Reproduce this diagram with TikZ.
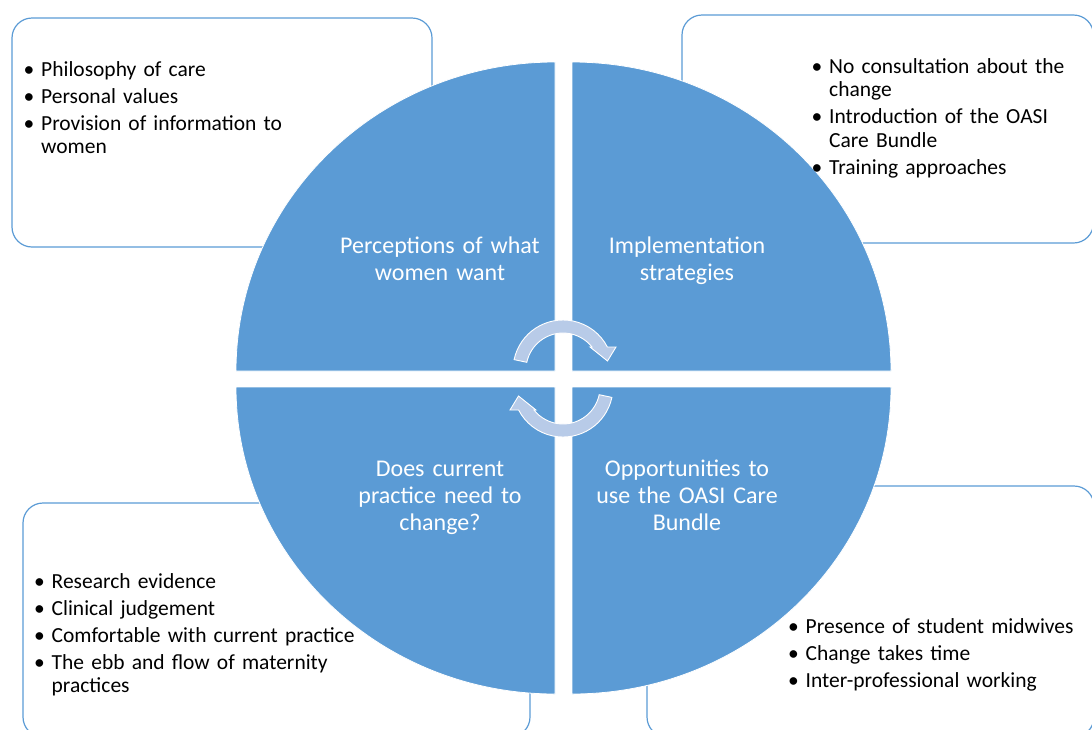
\documentclass[tikz,border=0pt]{standalone}
\usepackage{fontspec}
\setmainfont{Carlito}
\definecolor{qblue}{HTML}{5B9BD5}
\definecolor{arrowfill}{HTML}{B8CBE8}
\newcommand\bpoint[1]{\hangindent=17.5pt\hangafter=1\noindent\makebox[17.5pt][l]{\textbullet}#1\par}
\newcommand\bgap{\vskip3.5pt}
\begin{document}
\begin{tikzpicture}[x=1pt,y=1pt,
  quad/.style={fill=qblue, draw=white, line width=0.8pt},
  infobox/.style={draw=qblue, line width=1.2pt, rounded corners=20pt},
  qtext/.style={text=white, font=\fontsize{24}{27}\selectfont, align=center, text width=260pt, inner sep=0pt, anchor=base},
  btext/.style={text=black, font=\fontsize{21.5}{23.5}\selectfont, text width=330pt, inner sep=0pt, anchor=base west},
  cyc/.style={fill=arrowfill, draw=white, line width=0.9pt}
]
\useasboundingbox (0,0) rectangle (1092,-729);
\clip (0,0) rectangle (1092,-729);
% information boxes
\draw[infobox] (12,-18) rectangle (432,-247);
\draw[infobox] (682,-15) rectangle (1093.5,-243);
\draw[infobox] (23,-503) rectangle (530,-737);
\draw[infobox] (647,-486) rectangle (1094,-737);
% quadrants
\path[quad] (555,-371) -- (236,-371) arc[start angle=180, end angle=90, x radius=319, y radius=309] -- cycle;
\path[quad] (572,-371) -- (572,-62) arc[start angle=90, end angle=0, x radius=319, y radius=309] -- cycle;
\path[quad] (555,-387) -- (236,-387) arc[start angle=180, end angle=270, x radius=319, y radius=307] -- cycle;
\path[quad] (572,-387) -- (891,-387) arc[start angle=0, end angle=-90, x radius=319, y radius=307] -- cycle;
% cycle arrows
\path[cyc] ([shift={(168:50)}]563,-370) arc[start angle=168, end angle=27.4, radius=50]
  -- (616,-347) -- (607.5,-361) -- (590,-347)
  -- ([shift={(38.4:37)}]563,-370) arc[start angle=38.4, end angle=168, radius=37] -- cycle;
\begin{scope}[rotate around={180:(563,-378.5)}]
\path[cyc] ([shift={(168:50)}]563,-370) arc[start angle=168, end angle=27.4, radius=50]
  -- (616,-347) -- (607.5,-361) -- (590,-347)
  -- ([shift={(38.4:37)}]563,-370) arc[start angle=38.4, end angle=168, radius=37] -- cycle;
\end{scope}
% quadrant labels
\node[qtext] (q1) at (440,-253) {Perceptions of what\\women want};
\node[qtext] (q2) at (687,-253) {Implementation\\strategies};
\node[qtext] (q3) at (440,-476) {Does current\\practice need to\\change?};
\node[qtext] (q4) at (687,-476) {Opportunities to\\use the OASI Care\\Bundle};
% box texts
\node[btext] (b1) at (23.5,-76) {\bpoint{Philosophy of care}\bgap\bpoint{Personal values}\bgap\bpoint{Provision of information to\newline women}};
\node[btext] (b2) at (811.5,-73) {\bpoint{No consultation about the\newline change}\bgap\bpoint{Introduction of the OASI\newline Care Bundle}\bgap\bpoint{Training approaches}};
\node[btext] (b3) at (34,-588) {\bpoint{Research evidence}\bgap\bpoint{Clinical judgement}\bgap\bpoint{Comfortable with current practice}\bgap\bpoint{The ebb and flow of maternity\newline practices}};
\node[btext] (b4) at (788,-633) {\bpoint{Presence of student midwives}\bgap\bpoint{Change takes time}\bgap\bpoint{Inter-professional working}};
\end{tikzpicture}
\end{document}
